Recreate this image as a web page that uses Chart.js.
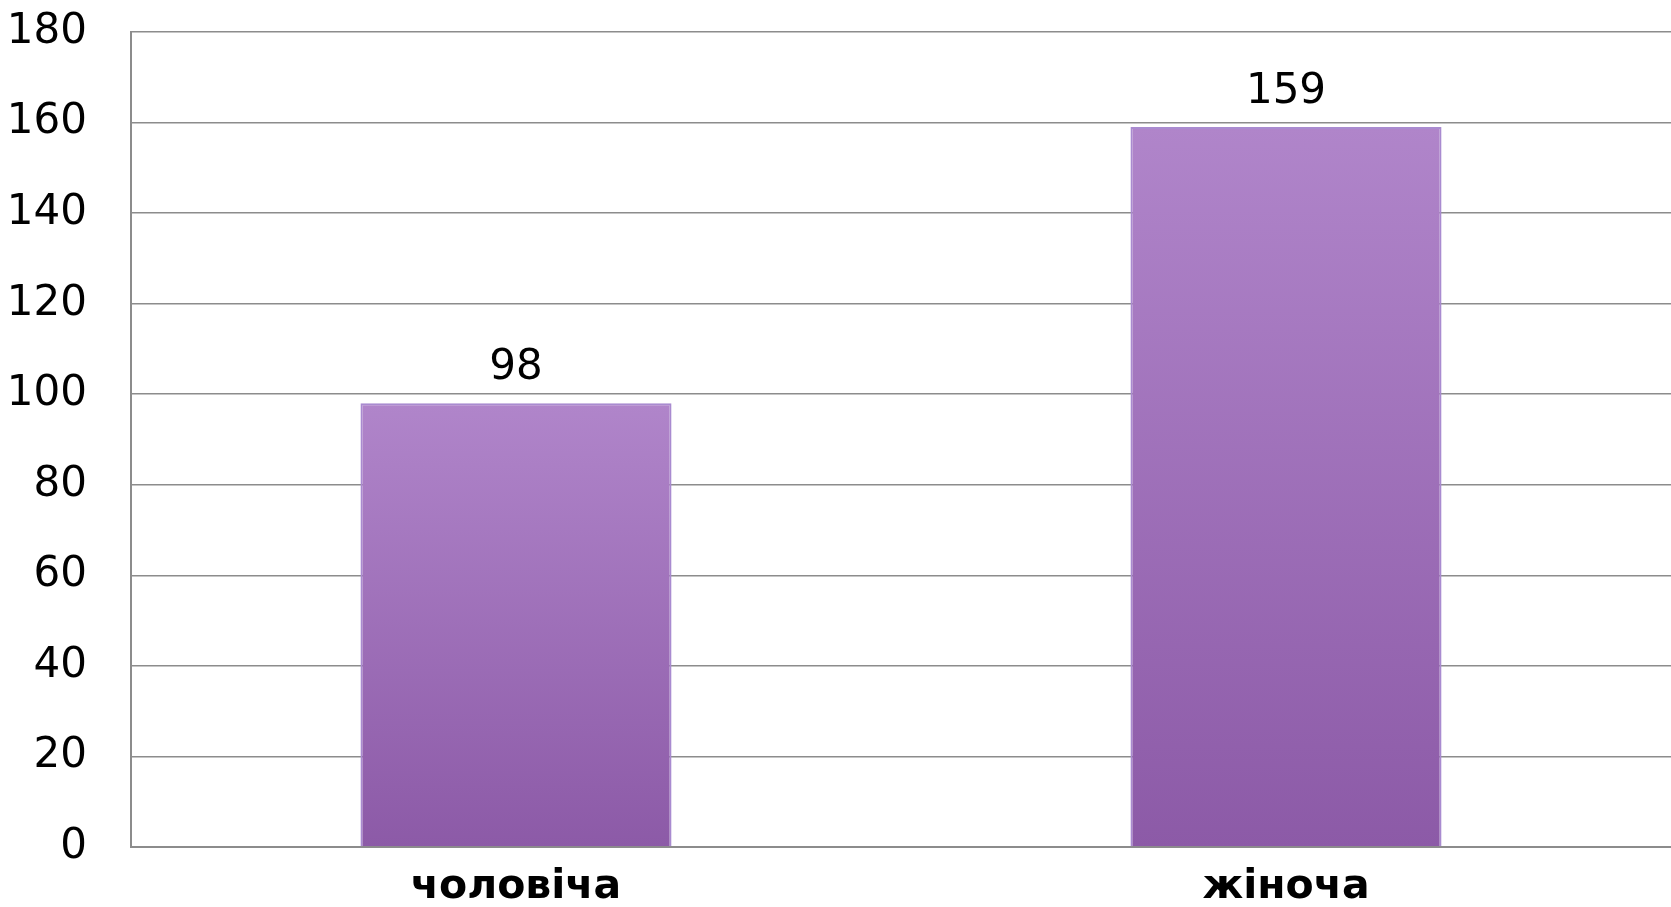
<!DOCTYPE html>
<html lang="uk">
  <head>
    <meta charset="UTF-8" />
    <title>Стать</title>
    <script src="https://cdn.jsdelivr.net/npm/chart.js"></script>
    <style>
      html,
      body {
        margin: 0;
        padding: 0;
        background: #ffffff;
      }
      #wrap {
        width: 1671px;
        height: 907px;
      }
    </style>
  </head>
  <body>
    <div id="wrap"><canvas id="sexChart"></canvas></div>
    <script>
      const categories = ["чоловіча", "жіноча"];
      const counts = [98, 159];
      const yTicks = [0, 20, 40, 60, 80, 100, 120, 140, 160, 180];

      const FONT = "'DejaVu Sans', sans-serif";

      // gradient per bar, from its own top down to the baseline
      function barFill(context) {
        const chart = context.chart;
        const y = chart.scales.y;
        if (!y || !chart.chartArea) return "#9e70bb";
        const value = context.raw;
        const top = y.getPixelForValue(value);
        const bottom = y.getPixelForValue(0);
        const g = chart.ctx.createLinearGradient(0, top, 0, bottom);
        g.addColorStop(0, "#b085ca");
        g.addColorStop(1, "#8c5aa7");
        return g;
      }

      // value labels above bars
      const valueLabels = {
        id: "valueLabels",
        afterDatasetsDraw(chart) {
          const ctx = chart.ctx;
          const meta = chart.getDatasetMeta(0);
          ctx.save();
          ctx.font = "42px " + FONT;
          ctx.fillStyle = "#000000";
          ctx.textAlign = "center";
          ctx.textBaseline = "middle";
          meta.data.forEach((bar, i) => {
            ctx.fillText(String(counts[i]), bar.x, bar.y - 35);
          });
          ctx.restore();
        },
      };

      new Chart(document.getElementById("sexChart"), {
        type: "bar",
        data: {
          labels: categories,
          datasets: [
            {
              data: counts,
              backgroundColor: barFill,
              borderColor: "#a98bd0",
              borderWidth: 2,
              barPercentage: 0.404,
              categoryPercentage: 1,
            },
          ],
        },
        options: {
          responsive: true,
          maintainAspectRatio: false,
          animation: false,
          layout: {
            padding: 0,
          },
          plugins: {
            legend: { display: false },
            tooltip: { enabled: false },
          },
          scales: {
            x: {
              afterFit(scale) {
                scale.height = 60;
              },
              grid: { display: false, drawTicks: false },
              border: { color: "#8c8c8c", width: 2 },
              ticks: {
                color: "#000000",
                padding: 16,
                font: { family: FONT, size: 41, weight: "bold" },
              },
            },
            y: {
              min: 0,
              max: 180,
              afterFit(scale) {
                scale.width = 131;
                // tick padding would otherwise be added above/below the plot
                scale.paddingTop = 32;
                scale.paddingBottom = 0;
              },
              afterBuildTicks(scale) {
                scale.ticks = yTicks.map((v) => ({ value: v }));
              },
              grid: {
                color: "#8c8c8c",
                lineWidth: 1.5,
                drawTicks: false,
              },
              border: { color: "#8c8c8c", width: 2 },
              ticks: {
                color: "#000000",
                padding: 44,
                font: { family: FONT, size: 42 },
              },
            },
          },
        },
        plugins: [valueLabels],
      });
    </script>
  </body>
</html>
